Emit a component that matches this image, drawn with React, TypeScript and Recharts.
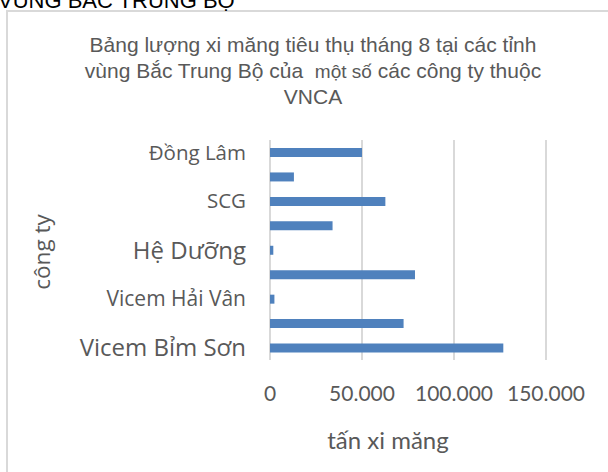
import React from 'react';
import { BarChart, Bar, XAxis, YAxis, CartesianGrid } from 'recharts';

// Categories top-to-bottom (unlabelled rows in the source are hidden by the axis interval)
const companies = [
  'Đồng Lâm',
  'Long Sơn',
  'SCG',
  'Công Thanh',
  'Hệ Dưỡng',
  'Nghi Sơn',
  'Vicem Hải Vân',
  'Vicem Hoàng Mai',
  'Vicem Bỉm Sơn',
];
const tonnes = [50000, 13000, 62700, 34000, 1800, 78800, 2400, 72600, 126800];
const xTicks = [0, 50000, 100000, 150000];

const titleLines = [
  'Bảng lượng xi măng tiêu thụ tháng 8 tại các tỉnh',
  'vùng Bắc Trung Bộ của  ',
  'VNCA',
];
const titleLine2Small = 'một số';
const titleLine2Rest = ' các công ty thuộc';
const heading = 'VÙNG BẮC TRUNG BỘ';
const xTitle = 'tấn xi măng';
const yTitle = 'công ty';

const data = companies.map((name, i) => ({ name, value: tonnes[i] }));

const labelSize: Record<string, number> = {
  'Đồng Lâm': 20.5,
  SCG: 20.5,
  'Hệ Dưỡng': 24,
  'Vicem Hải Vân': 21,
  'Vicem Bỉm Sơn': 24,
};

const fmt = (v: number) => String(v).replace(/\B(?=(\d{3})+(?!\d))/g, '.');

const GREY = '#595959';

const YTick = (props: any) => {
  const { x, y, payload } = props;
  const fs = labelSize[payload.value] ?? 20;
  return (
    <text
      x={x - 16}
      y={y}
      dy="0.36em"
      textAnchor="end"
      fontFamily="'Open Sans', sans-serif"
      fontSize={fs}
      fill={GREY}
    >
      {payload.value}
    </text>
  );
};

const XTick = (props: any) => {
  const { x, y, payload } = props;
  return (
    <text
      x={x}
      y={y}
      dy={33}
      textAnchor="middle"
      fontFamily="Lato, sans-serif"
      fontSize={21}
      fill={GREY}
    >
      {fmt(payload.value)}
    </text>
  );
};

export default function App() {
  return (
    <div
      style={{
        position: 'absolute',
        left: 0,
        top: 0,
        width: 608,
        height: 472,
        overflow: 'hidden',
        background: '#fff',
      }}
    >
      <div
        style={{
          position: 'absolute',
          left: 6,
          top: 10,
          width: 660,
          height: 520,
          border: '2px solid #d9d9d9',
          boxSizing: 'border-box',
        }}
      />
      <div style={{ position: 'absolute', left: 0, top: 0 }}>
        <BarChart
          width={608}
          height={472}
          data={data}
          layout="vertical"
          margin={{ top: 140, right: 62, bottom: 72, left: 0 }}
        >
          <CartesianGrid horizontal={false} stroke="#d9d9d9" strokeWidth={2} />
          <XAxis
            type="number"
            domain={[0, 150000]}
            ticks={xTicks}
            axisLine={false}
            tickLine={false}
            height={40}
            tick={<XTick />}
          />
          <YAxis
            type="category"
            dataKey="name"
            width={270}
            interval={1}
            axisLine={false}
            tickLine={false}
            tick={<YTick />}
          />
          <Bar dataKey="value" fill="#4f81bd" barSize={9} isAnimationActive={false} />
        </BarChart>
      </div>
      <svg
        width={608}
        height={472}
        style={{ position: 'absolute', left: 0, top: 0, pointerEvents: 'none' }}
      >
        <text x={-2} y={8} fontFamily="'Liberation Sans', Arial, sans-serif" fontSize={22} fill="#000">
          {heading}
        </text>
        <g fontFamily="'Liberation Sans', Arial, sans-serif" fontSize={21} fill={GREY} textAnchor="middle">
          <text x={313} y={52}>{titleLines[0]}</text>
          <text x={313} y={78} style={{ whiteSpace: 'pre' }}>
            {titleLines[1]}
            <tspan fontSize={19}>{titleLine2Small}</tspan>
            {titleLine2Rest}
          </text>
          <text x={313} y={104}>{titleLines[2]}</text>
        </g>
        <text
          x={388}
          y={449}
          textAnchor="middle"
          fontFamily="Lato, sans-serif"
          fontSize={24}
          fill={GREY}
        >
          {xTitle}
        </text>
        <text
          transform="translate(50 252) rotate(-90)"
          textAnchor="middle"
          fontFamily="'Open Sans', sans-serif"
          fontSize={22.5}
          fill={GREY}
        >
          {yTitle}
        </text>
      </svg>
    </div>
  );
}
